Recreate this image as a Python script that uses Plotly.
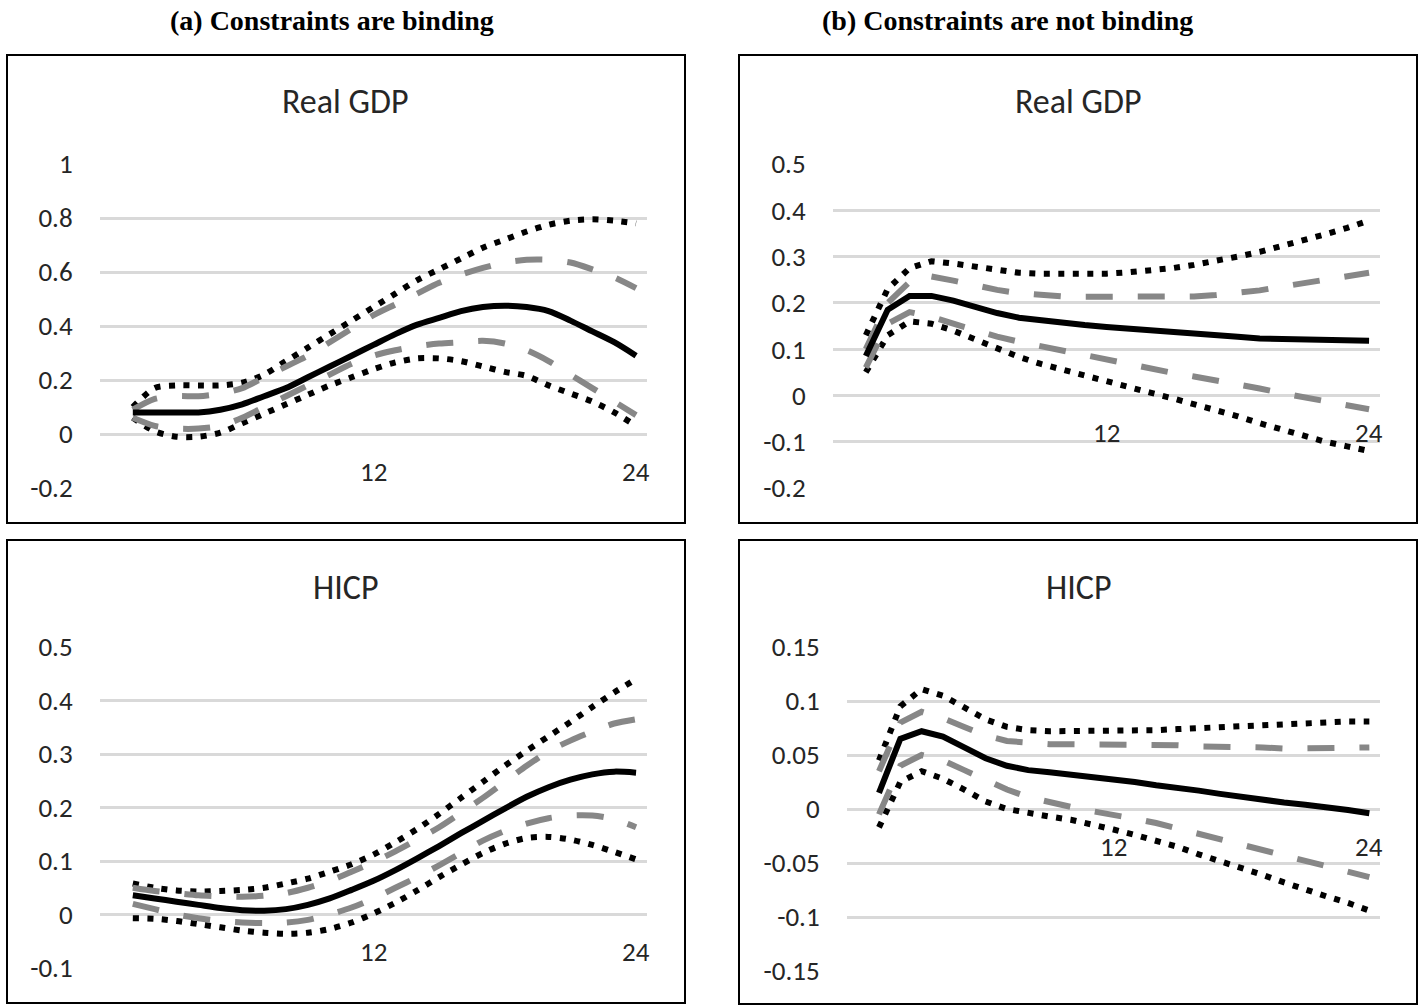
import plotly.graph_objects as go

W, H = 1421, 1005

periods = list(range(1, 25))

# (a) Constraints are binding - Real GDP
a_gdp_mid = [0.08, 0.08, 0.08, 0.08, 0.09, 0.11, 0.14, 0.17, 0.21, 0.25, 0.29, 0.33,
             0.37, 0.405, 0.43, 0.455, 0.47, 0.475, 0.47, 0.455, 0.42, 0.38, 0.34, 0.29]
a_gdp_hi90 = [0.10, 0.17, 0.18, 0.18, 0.18, 0.19, 0.22, 0.27, 0.32, 0.37, 0.42, 0.47,
              0.52, 0.57, 0.61, 0.65, 0.69, 0.72, 0.75, 0.775, 0.79, 0.795, 0.79, 0.78]
a_gdp_hi68 = [0.09, 0.13, 0.14, 0.14, 0.15, 0.17, 0.21, 0.25, 0.29, 0.34, 0.39, 0.44,
              0.48, 0.52, 0.56, 0.59, 0.615, 0.635, 0.645, 0.645, 0.635, 0.61, 0.58, 0.54]
a_gdp_lo68 = [0.06, 0.03, 0.02, 0.02, 0.03, 0.06, 0.10, 0.14, 0.18, 0.22, 0.26, 0.29,
              0.31, 0.325, 0.335, 0.34, 0.345, 0.335, 0.31, 0.27, 0.22, 0.17, 0.12, 0.07]
a_gdp_lo90 = [0.06, 0.01, -0.01, -0.01, 0.005, 0.04, 0.075, 0.11, 0.145, 0.18, 0.21, 0.24,
              0.265, 0.28, 0.28, 0.27, 0.25, 0.23, 0.215, 0.18, 0.15, 0.12, 0.08, 0.03]

# (b) Constraints are not binding - Real GDP
b_gdp_mid = [0.085, 0.185, 0.215, 0.215, 0.205, 0.19, 0.178, 0.168, 0.162, 0.157, 0.152, 0.148,
             0.145, 0.14, 0.137, 0.133, 0.13, 0.127, 0.123, 0.122, 0.122, 0.12, 0.118, 0.118]
b_gdp_hi90 = [0.13, 0.23, 0.275, 0.29, 0.285, 0.278, 0.27, 0.265, 0.263, 0.262, 0.262, 0.263,
              0.266, 0.27, 0.275, 0.282, 0.29, 0.30, 0.31, 0.322, 0.335, 0.348, 0.362, 0.378]
b_gdp_hi68 = [0.10, 0.20, 0.245, 0.257, 0.248, 0.237, 0.228, 0.221, 0.216, 0.214, 0.213, 0.213,
              0.213, 0.213, 0.213, 0.214, 0.217, 0.221, 0.227, 0.235, 0.243, 0.25, 0.258, 0.265]
b_gdp_lo68 = [0.06, 0.155, 0.18, 0.17, 0.155, 0.14, 0.127, 0.116, 0.106, 0.096, 0.086, 0.076,
              0.066, 0.057, 0.049, 0.041, 0.033, 0.024, 0.015, 0.005, -0.004, -0.013, -0.022, -0.03]
b_gdp_lo90 = [0.05, 0.13, 0.16, 0.155, 0.14, 0.12, 0.10, 0.083, 0.068, 0.055, 0.045, 0.032,
              0.018, 0.006, -0.006, -0.018, -0.031, -0.045, -0.06, -0.074, -0.088, -0.10, -0.11, -0.12]

# (a) Constraints are binding - HICP
a_hicp_mid = [0.036, 0.03, 0.024, 0.018, 0.012, 0.008, 0.007, 0.01, 0.018, 0.03, 0.046, 0.063,
              0.083, 0.105, 0.128, 0.152, 0.175, 0.198, 0.22, 0.238, 0.252, 0.262, 0.267, 0.265]
a_hicp_hi90 = [0.058, 0.05, 0.045, 0.043, 0.044, 0.046, 0.05, 0.058, 0.067, 0.08, 0.094, 0.112,
               0.135, 0.16, 0.188, 0.218, 0.248, 0.278, 0.306, 0.333, 0.36, 0.388, 0.415, 0.44]
a_hicp_hi68 = [0.05, 0.044, 0.04, 0.036, 0.034, 0.033, 0.035, 0.04, 0.05, 0.063, 0.08, 0.098,
               0.118, 0.14, 0.163, 0.19, 0.218, 0.248, 0.278, 0.305, 0.325, 0.342, 0.357, 0.365]
a_hicp_lo68 = [0.02, 0.01, 0.0, -0.007, -0.012, -0.015, -0.016, -0.015, -0.01, 0.0, 0.013, 0.03,
               0.05, 0.07, 0.092, 0.115, 0.138, 0.156, 0.17, 0.18, 0.185, 0.185, 0.178, 0.163]
a_hicp_lo90 = [-0.007, -0.008, -0.012, -0.018, -0.024, -0.03, -0.034, -0.036, -0.034, -0.027, -0.015, 0.002,
               0.022, 0.045, 0.07, 0.093, 0.115, 0.132, 0.143, 0.145, 0.14, 0.13, 0.117, 0.103]

# (b) Constraints are not binding - HICP
b_hicp_mid = [0.015, 0.065, 0.072, 0.067, 0.057, 0.047, 0.04, 0.036, 0.034, 0.032, 0.03, 0.028,
              0.025, 0.022, 0.02, 0.017, 0.014, 0.011, 0.008, 0.006, 0.004, 0.002, -0.001, -0.004]
b_hicp_hi90 = [0.045, 0.095, 0.111, 0.105, 0.094, 0.083, 0.076, 0.073, 0.072, 0.072, 0.072, 0.072,
               0.073, 0.073, 0.074, 0.075, 0.075, 0.076, 0.077, 0.078, 0.079, 0.08, 0.081, 0.081]
b_hicp_hi68 = [0.035, 0.08, 0.09, 0.084, 0.076, 0.068, 0.063, 0.061, 0.06, 0.06, 0.06, 0.06,
               0.06, 0.06, 0.059, 0.058, 0.058, 0.057, 0.057, 0.056, 0.056, 0.056, 0.057, 0.057]
b_hicp_lo68 = [-0.005, 0.04, 0.05, 0.045, 0.036, 0.027, 0.018, 0.011, 0.006, 0.002, -0.002, -0.005,
               -0.009, -0.013, -0.018, -0.023, -0.028, -0.033, -0.038, -0.043, -0.048, -0.053, -0.058, -0.063]
b_hicp_lo90 = [-0.017, 0.025, 0.035, 0.028, 0.018, 0.007, 0.0, -0.004, -0.007, -0.01, -0.014, -0.019,
               -0.024, -0.029, -0.035, -0.042, -0.048, -0.055, -0.061, -0.068, -0.075, -0.081, -0.087, -0.094]

section_titles = ["(a) Constraints are binding", "(b) Constraints are not binding"]
panel_titles = ["Real GDP", "Real GDP", "HICP", "HICP"]
x_tick_labels = ["12", "24"]
x_tick_vals = [12, 24]

y_ticks = [
    [-0.2, 0, 0.2, 0.4, 0.6, 0.8, 1],
    [-0.2, -0.1, 0, 0.1, 0.2, 0.3, 0.4, 0.5],
    [-0.1, 0, 0.1, 0.2, 0.3, 0.4, 0.5],
    [-0.15, -0.1, -0.05, 0, 0.05, 0.1, 0.15],
]
y_tick_text = [
    ["-0.2", "0", "0.2", "0.4", "0.6", "0.8", "1"],
    ["-0.2", "-0.1", "0", "0.1", "0.2", "0.3", "0.4", "0.5"],
    ["-0.1", "0", "0.1", "0.2", "0.3", "0.4", "0.5"],
    ["-0.15", "-0.1", "-0.05", "0", "0.05", "0.1", "0.15"],
]
y_ranges = [[-0.2, 1], [-0.2, 0.5], [-0.1, 0.5], [-0.15, 0.15]]

panels = [
    (a_gdp_mid, a_gdp_hi90, a_gdp_hi68, a_gdp_lo68, a_gdp_lo90),
    (b_gdp_mid, b_gdp_hi90, b_gdp_hi68, b_gdp_lo68, b_gdp_lo90),
    (a_hicp_mid, a_hicp_hi90, a_hicp_hi68, a_hicp_lo68, a_hicp_lo90),
    (b_hicp_mid, b_hicp_hi90, b_hicp_hi68, b_hicp_lo68, b_hicp_lo90),
]

# layout geometry (pixels)
plot_px = [
    (100, 647, 164, 488),
    (833, 1380, 164, 488),
    (100, 647, 647, 968),
    (847, 1380, 647, 971),
]
box_px = [
    (7, 685, 55, 523),
    (739, 1417, 55, 523),
    (7, 685, 540, 1003),
    (739, 1417, 540, 1004),
]
title_px = [(345, 102), (1078, 102), (345, 587), (1078, 587)]
section_px = [(332, 20), (1007, 20)]

FONT = "Carlito, Lato, 'Open Sans', sans-serif"
TXT = "#262626"

fig = go.Figure()

for k, (mid, hi90, hi68, lo68, lo90) in enumerate(panels):
    xa = "x" if k == 0 else f"x{k+1}"
    ya = "y" if k == 0 else f"y{k+1}"
    shape = "spline" if k in (0, 2) else "linear"
    common = dict(x=periods, xaxis=xa, yaxis=ya, mode="lines", showlegend=False,
                  hoverinfo="skip")
    for ser in (lo90, hi90):
        fig.add_trace(go.Scatter(y=ser, line=dict(color="black", width=6, dash="6px,8.5px",
                                                  shape=shape, smoothing=0.8), **common))
    for ser in (lo68, hi68):
        fig.add_trace(go.Scatter(y=ser, line=dict(color="#878787", width=6, dash="27px,25px",
                                                  shape=shape, smoothing=0.8), **common))
    fig.add_trace(go.Scatter(y=mid, line=dict(color="black", width=6, shape=shape,
                                              smoothing=0.8), **common))

layout = dict(
    template="none",
    width=W, height=H, autosize=False,
    margin=dict(l=0, r=0, t=0, b=0, pad=0, autoexpand=False),
    paper_bgcolor="white", plot_bgcolor="white",
    showlegend=False,
    font=dict(family=FONT, color=TXT),
)

shapes = []
annotations = []
for k in range(4):
    x0, x1, y0, y1 = plot_px[k]
    xkey = "xaxis" if k == 0 else f"xaxis{k+1}"
    ykey = "yaxis" if k == 0 else f"yaxis{k+1}"
    xa = "x" if k == 0 else f"x{k+1}"
    ya = "y" if k == 0 else f"y{k+1}"
    layout[xkey] = dict(domain=[x0 / W, x1 / W], range=[-0.5, 24.5], anchor=ya,
                        showgrid=False, zeroline=False, showline=False, automargin=False,
                        showticklabels=False, ticks="", fixedrange=True)
    layout[ykey] = dict(domain=[1 - y1 / H, 1 - y0 / H], range=y_ranges[k], anchor=xa,
                        tickvals=y_ticks[k], ticktext=y_tick_text[k], automargin=False,
                        showgrid=True, gridcolor="#d9d9d9", gridwidth=3,
                        zeroline=False, showline=False,
                        ticks="outside", ticklen=21, tickcolor="rgba(0,0,0,0)",
                        tickfont=dict(size=27, family=FONT, color=TXT), fixedrange=True)
    for tv, tt in zip(x_tick_vals, x_tick_labels):
        annotations.append(dict(x=tv, y=0, xref=xa, yref=ya, text=tt, showarrow=False,
                                yshift=-37, font=dict(size=27, family=FONT, color=TXT),
                                xanchor="center", yanchor="middle"))
    bx0, bx1, by0, by1 = box_px[k]
    shapes.append(dict(type="rect", xref="paper", yref="paper",
                       x0=bx0 / W, x1=bx1 / W, y0=1 - by1 / H, y1=1 - by0 / H,
                       line=dict(color="black", width=2), fillcolor="rgba(0,0,0,0)",
                       layer="below"))
    tx, ty = title_px[k]
    annotations.append(dict(x=tx / W, y=1 - ty / H, xref="paper", yref="paper",
                            text=panel_titles[k], showarrow=False,
                            font=dict(size=34, family=FONT, color=TXT),
                            xanchor="center", yanchor="middle"))

for (sx, sy), st in zip(section_px, section_titles):
    annotations.append(dict(x=sx / W, y=1 - sy / H, xref="paper", yref="paper",
                            text=f"<b>{st}</b>", showarrow=False,
                            font=dict(size=28, family="'Liberation Serif', serif", color="black"),
                            xanchor="center", yanchor="middle"))

layout["shapes"] = shapes
layout["annotations"] = annotations
fig.update_layout(**layout)

fig.write_html("out.html", config={"displayModeBar": False})
